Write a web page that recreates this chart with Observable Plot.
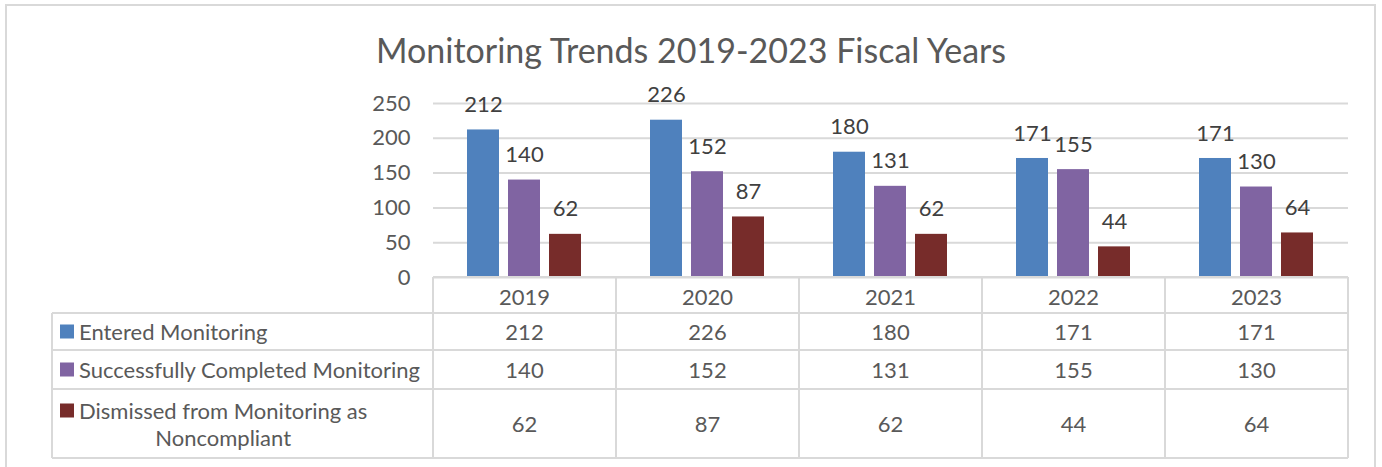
<!DOCTYPE html>
<html>
<head>
<meta charset="utf-8">
<script src="https://cdn.jsdelivr.net/npm/d3@7"></script>
<script src="https://cdn.jsdelivr.net/npm/@observablehq/plot@0.6"></script>
<style>
  html, body { margin: 0; padding: 0; background: #fff; }
  #wrap { position: relative; width: 1382px; height: 467px; overflow: hidden; font-family: Lato, "Open Sans", sans-serif; }
  #frame { position: absolute; left: 5px; top: 4px; width: 1371px; height: 520px; border: 2px solid #d9d9d9; box-sizing: border-box; }
  #title { position: absolute; left: 0; width: 1382px; top: 29px; text-align: center; font-size: 34px; color: #595959; line-height: 42px; }
  #chart { position: absolute; left: 0; top: 0; }
</style>
</head>
<body>
<div id="wrap">
  <div id="frame"></div>
  <div id="chart"></div>
  <div id="title">Monitoring Trends 2019-2023 Fiscal Years</div>
</div>
<script>
// ---- data ----
const years = ["2019", "2020", "2021", "2022", "2023"];
const seriesNames = ["Entered Monitoring", "Successfully Completed Monitoring", "Dismissed from Monitoring as Noncompliant"];
const seriesLines = [["Entered Monitoring"], ["Successfully Completed Monitoring"], ["Dismissed from Monitoring as", "Noncompliant"]];
const entered = [212, 226, 180, 171, 171];
const completed = [140, 152, 131, 155, 130];
const dismissed = [62, 87, 62, 44, 64];
const yTicks = [0, 50, 100, 150, 200, 250];
const seriesColors = ["#4f81bd", "#8064a2", "#772c2a"];

const valuesBySeries = [entered, completed, dismissed];
const data = [];
years.forEach((yr, i) => {
  seriesNames.forEach((s, j) => data.push({ year: yr, series: s, value: valuesBySeries[j][i] }));
});

const textColor = "#595959";
const gridColor = "#d9d9d9";
const fs = 22;

const plot = Plot.plot({
  width: 1382,
  height: 467,
  marginLeft: 431,
  marginRight: 33,
  marginTop: 103,
  marginBottom: 190,
  style: { fontFamily: "Lato, 'Open Sans', sans-serif", fontSize: fs + "px", color: textColor, background: "transparent" },
  fx: { domain: years, paddingInner: 0, paddingOuter: 0, axis: null, label: null },
  x: { domain: seriesNames, paddingInner: 0.214, paddingOuter: 0.82, axis: null, label: null },
  y: { domain: [0, 250], label: null },
  color: { domain: seriesNames, range: seriesColors },
  marks: [
    Plot.gridY(yTicks, { stroke: gridColor, strokeOpacity: 1, strokeWidth: 2 }),
    Plot.axisY(yTicks, { tickSize: 0, tickPadding: 23, fontSize: fs, label: null, fill: textColor }),
    Plot.barY(data, { fx: "year", x: "series", y: "value", fill: "series" }),
    Plot.text(data, { fx: "year", x: "series", y: "value", text: d => String(d.value), dy: -25, fill: "#404040", fontSize: fs })
  ]
});
document.getElementById("chart").appendChild(plot);

// ---- data table below the plot, aligned to the fx scale ----
const fx = plot.scale("fx");
const y = plot.scale("y");
const color = plot.scale("color");
const svg = d3.select(plot);
const bw = fx.bandwidth;
const colX = years.map(yr => fx.apply(yr));
const tableLeft = 52;
const plotLeft = colX[0];
const plotRight = colX[colX.length - 1] + bw;
const top0 = y.apply(0);
const rowEdges = [top0, 313, 350, 389, 458]; // header, row1, row2, row3 boundaries
const g = svg.append("g").attr("class", "datatable");
const line = (x1, y1, x2, y2) => g.append("line").attr("x1", x1).attr("y1", y1).attr("x2", x2).attr("y2", y2)
  .attr("stroke", gridColor).attr("stroke-width", 2);

// horizontal lines
line(plotLeft, rowEdges[0], plotRight, rowEdges[0]);
for (let k = 1; k < rowEdges.length; k++) line(tableLeft, rowEdges[k], plotRight, rowEdges[k]);
// vertical lines
line(tableLeft, rowEdges[1], tableLeft, rowEdges[4]);
years.forEach((yr, i) => line(colX[i], rowEdges[0], colX[i], rowEdges[4]));
line(plotRight, rowEdges[0], plotRight, rowEdges[4]);

const txt = (x, yy, s, anchor, fill) => g.append("text").attr("x", x).attr("y", yy)
  .attr("text-anchor", anchor).attr("dominant-baseline", "central")
  .attr("fill", fill || textColor).attr("font-size", fs + "px").text(s);

// header years
years.forEach((yr, i) => txt(colX[i] + bw / 2, (rowEdges[0] + rowEdges[1]) / 2 + 1, yr, "middle"));

// rows
seriesNames.forEach((s, j) => {
  const r0 = rowEdges[j + 1], r1 = rowEdges[j + 2];
  const mid = (r0 + r1) / 2;
  const lines = seriesLines[j];
  const sq = 14;
  const textStart = 79;
  if (lines.length === 1) {
    g.append("rect").attr("x", 60).attr("y", mid - sq / 2).attr("width", sq).attr("height", sq).attr("fill", color.apply(s));
    txt(textStart, mid, lines[0], "start");
  } else {
    const l1 = mid - 13, l2 = mid + 14;
    const t1 = txt(textStart, l1, lines[0], "start");
    const w = t1.node().getComputedTextLength();
    txt(textStart + w / 2, l2, lines[1], "middle");
    g.append("rect").attr("x", 60).attr("y", l1 - sq / 2).attr("width", sq).attr("height", sq).attr("fill", color.apply(s));
  }
  years.forEach((yr, i) => txt(colX[i] + bw / 2, mid, String(valuesBySeries[j][i]), "middle"));
});
</script>
</body>
</html>
